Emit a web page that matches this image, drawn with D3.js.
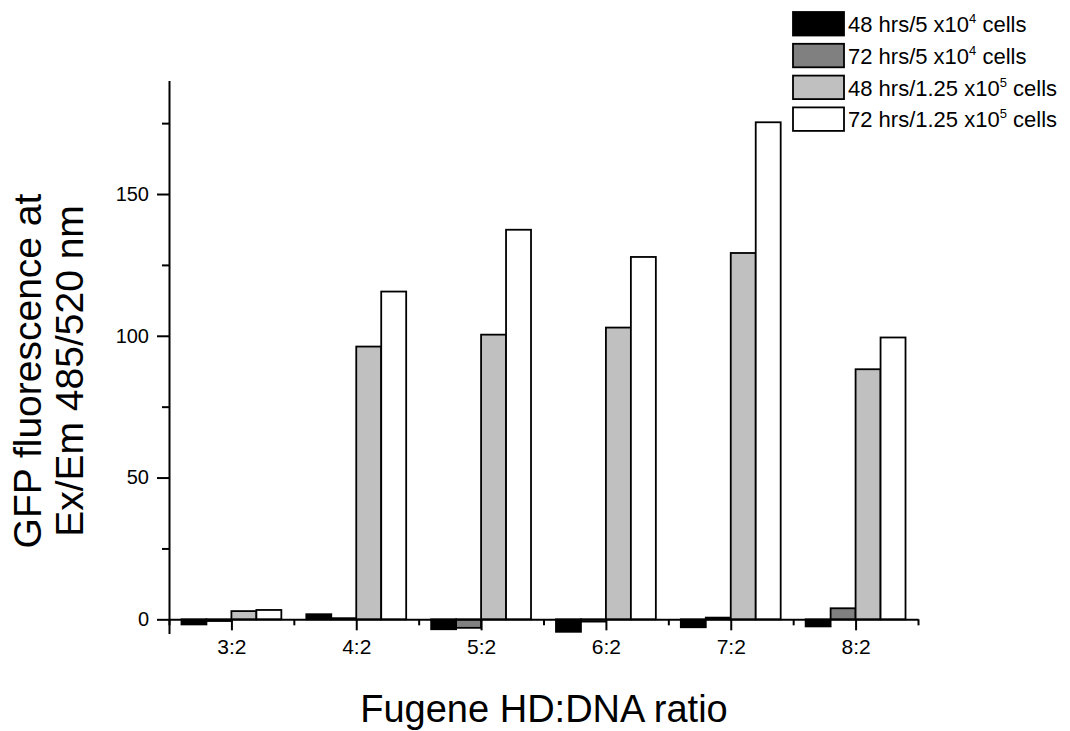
<html>
<head>
<meta charset="utf-8">
<title></title>
<style>
  body { margin: 0; background: #fff; }
  text { font-family: "Liberation Sans", Arial, sans-serif; fill: #000; }
</style>
</head>
<body>
<svg id="chart" width="1070" height="731"></svg>
<script src="https://d3js.org/d3.v7.min.js" charset="utf-8"></script>
<script>
// categories on the x axis (Fugene HD:DNA ratio)
var categories = ["3:2", "4:2", "5:2", "6:2", "7:2", "8:2"];
var catPos = [3, 4, 5, 6, 7, 8];

// series values
var s48_5e4   = [-1.8, 1.8, -3.5, -4.4, -2.8, -2.5];
var s72_5e4   = [-0.6, 0.4, -3.0, -0.8, 0.6, 3.9];
var s48_125e5 = [2.9, 96.2, 100.4, 102.9, 129.2, 88.2];
var s72_125e5 = [3.3, 115.6, 137.4, 127.8, 175.3, 99.4];

var yMajor = [0, 50, 100, 150];
var yMinor = [25, 75, 125, 175];
var xMinor = [2.5, 3.5, 4.5, 5.5, 6.5, 7.5, 8.5];

var series = [
  { vals: s48_5e4,   fill: "#000000", label: ["48 hrs/5 x10", "4", " cells"] },
  { vals: s72_5e4,   fill: "#808080", label: ["72 hrs/5 x10", "4", " cells"] },
  { vals: s48_125e5, fill: "#c0c0c0", label: ["48 hrs/1.25 x10", "5", " cells"] },
  { vals: s72_125e5, fill: "#ffffff", label: ["72 hrs/1.25 x10", "5", " cells"] }
];

var svg = d3.select("#chart");

var x = d3.scaleLinear().domain([2.5, 8.5]).range([169, 918]);
var y = d3.scaleLinear().domain([-5, 190]).range([633.5, 80.6]);

var barW = 0.2; // in category units
var offsets = [-0.4, -0.2, 0, 0.2];

// bars
series.forEach(function(s, i) {
  svg.append("g").selectAll("rect")
    .data(s.vals)
    .enter()
    .append("rect")
    .attr("x", function(d, j) { return x(catPos[j] + offsets[i]); })
    .attr("width", function(d, j) { return x(catPos[j] + offsets[i] + barW) - x(catPos[j] + offsets[i]); })
    .attr("y", function(d) { return y(Math.max(d, 0)); })
    .attr("height", function(d) { return Math.abs(y(d) - y(0)); })
    .attr("fill", s.fill)
    .attr("stroke", "#000")
    .attr("stroke-width", 1.8);
});

// y axis
var yAxis = svg.append("g").attr("transform", "translate(" + x(2.5) + ",0)")
  .call(d3.axisLeft(y).tickValues(yMajor).tickSize(12).tickSizeOuter(0).tickPadding(8));
svg.append("g").attr("transform", "translate(" + x(2.5) + ",0)")
  .call(d3.axisLeft(y).tickValues(yMinor).tickSize(7).tickSizeOuter(0).tickFormat(""))
  .select(".domain").remove();
yAxis.selectAll("text").style("font-size", "20px").attr("font-family", null);

// x axis at zero
var xAxis = svg.append("g").attr("transform", "translate(0," + y(0) + ")")
  .call(d3.axisBottom(x).tickValues(catPos).tickSize(11).tickSizeOuter(0).tickPadding(9)
    .tickFormat(function(d, i) { return categories[i]; }));
svg.append("g").attr("transform", "translate(0," + y(0) + ")")
  .call(d3.axisBottom(x).tickValues(xMinor).tickSize(6).tickSizeOuter(0).tickFormat(""))
  .select(".domain").remove();
xAxis.selectAll("text").style("font-size", "21px").attr("font-family", null);

svg.selectAll(".domain, .tick line").attr("stroke", "#000").attr("stroke-width", 2);

// axis titles
svg.append("text")
  .attr("x", 544).attr("y", 722)
  .attr("text-anchor", "middle")
  .style("font-size", "38px")
  .text("Fugene HD:DNA ratio");

var yt = svg.append("text")
  .attr("transform", "translate(0,371) rotate(-90)")
  .attr("text-anchor", "middle")
  .style("font-size", "39px");
yt.append("tspan").attr("x", 0).attr("y", 41).text("GFP fluorescence at");
yt.append("tspan").attr("x", 0).attr("y", 83).text("Ex/Em 485/520 nm");

// legend
var legend = svg.append("g").attr("transform", "translate(793,12)");
var rows = legend.selectAll("g")
  .data(series)
  .enter()
  .append("g")
  .attr("transform", function(d, i) { return "translate(0," + (i * 31.8) + ")"; });
rows.append("rect")
  .attr("width", 51).attr("height", 23.5)
  .attr("fill", function(d) { return d.fill; })
  .attr("stroke", "#000").attr("stroke-width", 1.8);
var lt = rows.append("text")
  .attr("x", 55).attr("y", 20)
  .style("font-size", "22px");
lt.append("tspan").text(function(d) { return d.label[0]; });
lt.append("tspan").attr("dy", -9).style("font-size", "13px").text(function(d) { return d.label[1]; });
lt.append("tspan").attr("dy", 9).text(function(d) { return d.label[2]; });
</script>
</body>
</html>
